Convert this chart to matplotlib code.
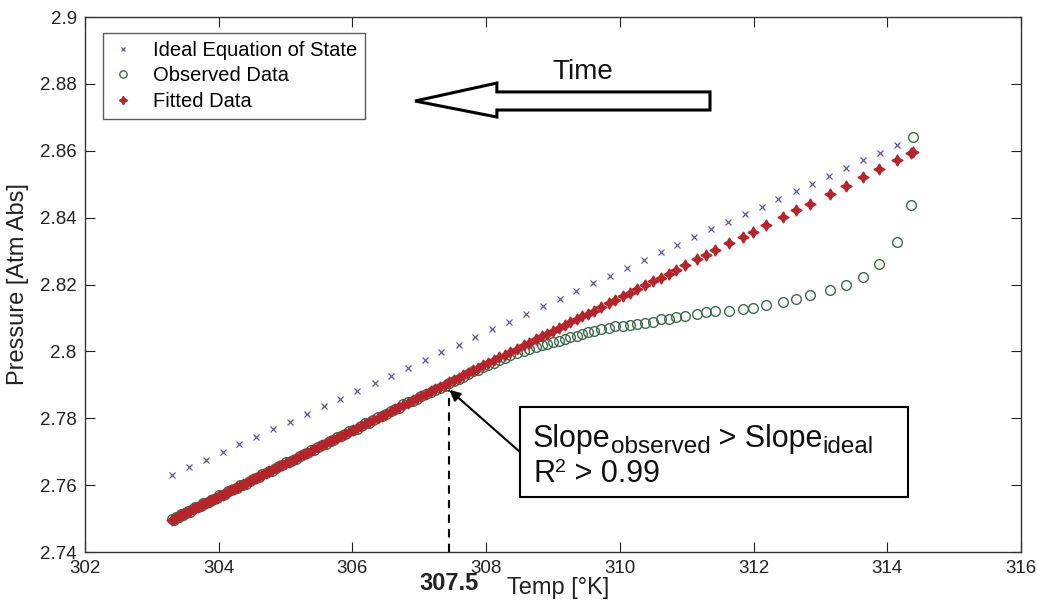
import matplotlib
matplotlib.use('Agg')
import matplotlib.pyplot as plt
from matplotlib.patches import Polygon, Rectangle
from matplotlib.ticker import FormatStrFormatter
import matplotlib.transforms as mtransforms

plt.rcParams['font.family'] = ['Liberation Sans', 'DejaVu Sans']

# ---------------- data ----------------
ideal_temp = [
    314.14, 313.89, 313.63, 313.38, 313.13, 312.88, 312.63, 312.37, 312.12,
    311.87, 311.62, 311.37, 311.11, 310.86, 310.61, 310.36, 310.11, 309.85, 309.60,
    309.35, 309.10, 308.85, 308.59, 308.34, 308.09, 307.84, 307.59, 307.33, 307.08,
    306.83, 306.58, 306.33, 306.07, 305.82, 305.57, 305.32, 305.07, 304.81, 304.56,
    304.31, 304.06, 303.81, 303.55, 303.30]
ideal_pressure = [
    2.8617, 2.8594, 2.8571, 2.8548, 2.8525, 2.8502, 2.8479, 2.8456, 2.8433,
    2.8410, 2.8387, 2.8365, 2.8342, 2.8319, 2.8296, 2.8273, 2.8250, 2.8227, 2.8204,
    2.8181, 2.8158, 2.8135, 2.8112, 2.8089, 2.8066, 2.8043, 2.8020, 2.7997, 2.7974,
    2.7951, 2.7928, 2.7905, 2.7882, 2.7859, 2.7836, 2.7813, 2.7790, 2.7767, 2.7745,
    2.7722, 2.7699, 2.7676, 2.7653, 2.7630]

temperature = [
    303.30, 303.33, 303.36, 303.40, 303.43, 303.47, 303.50, 303.54, 303.57, 303.61,
    303.65, 303.69, 303.73, 303.77, 303.81, 303.85, 303.89, 303.93, 303.97, 304.01,
    304.06, 304.10, 304.14, 304.19, 304.23, 304.28, 304.32, 304.37, 304.41, 304.46,
    304.51, 304.55, 304.60, 304.65, 304.70, 304.75, 304.80, 304.85, 304.90, 304.95,
    305.00, 305.05, 305.11, 305.16, 305.21, 305.27, 305.32, 305.38, 305.43, 305.49,
    305.54, 305.60, 305.66, 305.71, 305.77, 305.83, 305.89, 305.95, 306.01, 306.07,
    306.13, 306.19, 306.25, 306.31, 306.38, 306.44, 306.50, 306.57, 306.63, 306.70,
    306.76, 306.83, 306.90, 306.96, 307.03, 307.10, 307.17, 307.24, 307.31, 307.38,
    307.45, 307.52, 307.59, 307.66, 307.73, 307.81, 307.88, 307.95, 308.03, 308.11,
    308.19, 308.28, 308.36,
    308.46, 308.56, 308.64, 308.74, 308.83, 308.91, 309.00, 309.09, 309.18, 309.26,
    309.36, 309.44, 309.52, 309.61, 309.72, 309.83, 309.93, 310.04, 310.15, 310.26,
    310.37, 310.49, 310.61, 310.73, 310.84, 310.98, 311.15, 311.29, 311.43, 311.63,
    311.84, 311.99, 312.19, 312.44, 312.64, 312.84, 313.14, 313.38, 313.64, 313.88,
    314.14, 314.36, 314.39]

observed_pressure = [
    2.7499, 2.7497, 2.7504, 2.7506, 2.7514, 2.7512, 2.7517, 2.7524, 2.7520, 2.7529,
    2.7534, 2.7534, 2.7539, 2.7547, 2.7548, 2.7549, 2.7557, 2.7560, 2.7561, 2.7571,
    2.7571, 2.7573, 2.7582, 2.7585, 2.7590, 2.7592, 2.7601, 2.7602, 2.7603, 2.7614,
    2.7618, 2.7621, 2.7624, 2.7634, 2.7635, 2.7643, 2.7643, 2.7651, 2.7657, 2.7659,
    2.7669, 2.7669, 2.7676, 2.7678, 2.7688, 2.7693, 2.7696, 2.7706, 2.7706, 2.7714,
    2.7721, 2.7722, 2.7732, 2.7735, 2.7745, 2.7746, 2.7754, 2.7762, 2.7765, 2.7769,
    2.7778, 2.7785, 2.7787, 2.7795, 2.7805, 2.7807, 2.7812, 2.7822, 2.7827, 2.7831,
    2.7842, 2.7848, 2.7853, 2.7858, 2.7867, 2.7872, 2.7880, 2.7884, 2.7892, 2.7898,
    2.7906, 2.7911, 2.7919, 2.7925, 2.7931, 2.7940, 2.7945, 2.7953, 2.7959, 2.7966,
    2.7974, 2.7981, 2.7988,
    2.7996, 2.8001, 2.8006, 2.8013, 2.8018, 2.8023, 2.8027, 2.8032, 2.8037, 2.8042,
    2.8047, 2.8052, 2.8057, 2.8061, 2.8066, 2.8070, 2.8075, 2.8077, 2.8080, 2.8082,
    2.8086, 2.8088, 2.8096, 2.8098, 2.8103, 2.8106, 2.8113, 2.8117, 2.8120, 2.8122,
    2.8126, 2.8131, 2.8140, 2.8148, 2.8156, 2.8170, 2.8184, 2.8198, 2.8224, 2.8262,
    2.8327, 2.8439, 2.8641]

fitted_pressure = [
    2.7497, 2.7500, 2.7503, 2.7507, 2.7510, 2.7514, 2.7517, 2.7521, 2.7524, 2.7528,
    2.7532, 2.7536, 2.7540, 2.7544, 2.7548, 2.7552, 2.7555, 2.7559, 2.7563, 2.7567,
    2.7572, 2.7576, 2.7580, 2.7585, 2.7589, 2.7594, 2.7598, 2.7603, 2.7607, 2.7612,
    2.7617, 2.7621, 2.7626, 2.7631, 2.7636, 2.7641, 2.7646, 2.7651, 2.7656, 2.7661,
    2.7665, 2.7670, 2.7676, 2.7681, 2.7686, 2.7692, 2.7697, 2.7703, 2.7708, 2.7714,
    2.7719, 2.7725, 2.7731, 2.7736, 2.7742, 2.7748, 2.7754, 2.7760, 2.7766, 2.7772,
    2.7777, 2.7783, 2.7789, 2.7795, 2.7802, 2.7808, 2.7814, 2.7821, 2.7827, 2.7834,
    2.7840, 2.7847, 2.7854, 2.7860, 2.7867, 2.7874, 2.7881, 2.7887, 2.7894, 2.7901,
    2.7908, 2.7915, 2.7922, 2.7929, 2.7936, 2.7944, 2.7951, 2.7958, 2.7966, 2.7974,
    2.7982, 2.7990, 2.7998,
    2.8008, 2.8018, 2.8026, 2.8036, 2.8045, 2.8053, 2.8062, 2.8071, 2.8080, 2.8088,
    2.8098, 2.8105, 2.8113, 2.8122, 2.8133, 2.8144, 2.8154, 2.8165, 2.8176, 2.8187,
    2.8198, 2.8210, 2.8221, 2.8233, 2.8244, 2.8258, 2.8275, 2.8289, 2.8303, 2.8323,
    2.8343, 2.8358, 2.8378, 2.8403, 2.8423, 2.8442, 2.8472, 2.8496, 2.8522, 2.8545,
    2.8571, 2.8593, 2.8596]

x_ticks = [302, 304, 306, 308, 310, 312, 314, 316]
y_ticks = [2.74, 2.76, 2.78, 2.80, 2.82, 2.84, 2.86, 2.88, 2.90]
threshold_temp = 307.45
threshold_pressure = 2.7885
threshold_label = '307.5'

# ---------------- figure ----------------
fig = plt.figure(figsize=(10.37, 6.08), dpi=100)
ax = fig.add_axes([0.082, 0.092, 0.9026, 0.88])

ax.plot(ideal_temp, ideal_pressure, linestyle='none', marker='x', ms=4.5,
        mew=0.9, color='#5a5aa0', label='Ideal Equation of State', zorder=3)
ax.plot(temperature, observed_pressure, linestyle='none', marker='o', ms=7,
        mfc='none', mec='#3d6b4c', mew=1.0, label='Observed Data', zorder=4)
ax.plot(temperature, fitted_pressure, linestyle='none', marker=(4, 1, 0), ms=8,
        color='#b5242b', mec='#b5242b', label='Fitted Data', zorder=5)

ax.set_xlim(302, 316)
ax.set_ylim(2.74, 2.9)
ax.set_xticks(x_ticks)
ax.set_yticks(y_ticks)
ax.yaxis.set_major_formatter(FormatStrFormatter('%g'))
ax.tick_params(direction='in', top=True, right=True, length=7, width=0.8,
               labelsize=13.5, pad=6, colors='#222222')
for s in ax.spines.values():
    s.set_linewidth(1.0)
    s.set_color('#333333')

ax.set_xlabel('Temp [°K]', fontsize=17, color='#222222')
ax.xaxis.set_label_coords(0.505, -0.046)
ax.set_ylabel('Pressure [Atm Abs]', fontsize=17, labelpad=8, color='#222222')

# threshold dashed line and bold label
ax.vlines(threshold_temp, 2.74, threshold_pressure, colors='black',
          linestyles=(0, (4, 3)), linewidth=1.5, zorder=6)
trans = mtransforms.blended_transform_factory(ax.transData, ax.transAxes)
ax.text(threshold_temp, -0.058, threshold_label, transform=trans, ha='center',
        va='center', fontsize=17, fontweight='bold', color='#222222')

# legend
leg = ax.legend(loc='upper left', bbox_to_anchor=(0.0192, 0.970), borderaxespad=0,
                fontsize=14.5, frameon=True, fancybox=False, edgecolor='#333333',
                handlelength=1.2, handletextpad=0.9, labelspacing=0.33,
                borderpad=0.38, markerscale=0.75)
leg.get_frame().set_linewidth(1.0)

# Time arrow (hollow, pointing left)
arrow_pts = [(0.3526, 0.843), (0.440, 0.8766), (0.440, 0.860), (0.6677, 0.860),
             (0.6677, 0.8262), (0.440, 0.8262), (0.440, 0.8131)]
ax.add_patch(Polygon(arrow_pts, closed=True, facecolor='white', edgecolor='black',
                     linewidth=2.2, transform=ax.transAxes, zorder=7))
ax.text(0.532, 0.897, 'Time', transform=ax.transAxes, ha='center', va='center',
        fontsize=20, color='#111111')

# annotation box
ax.add_patch(Rectangle((0.4647, 0.1028), 0.8793 - 0.4647, 0.271 - 0.1028,
                       transform=ax.transAxes, facecolor='white', edgecolor='black',
                       linewidth=1.5, zorder=7))

renderer = fig.canvas.get_renderer()


def run_text(x0, y0, pieces):
    """Place consecutive text pieces (text, size, baseline shift in pt)."""
    x = x0
    for txt, size, dy in pieces:
        tr = ax.transAxes + mtransforms.ScaledTranslation(0, dy / 72, fig.dpi_scale_trans)
        t = ax.text(x, y0, txt, transform=tr, ha='left', va='baseline',
                    fontsize=size, zorder=8, color='#111111')
        bb = t.get_window_extent(renderer=renderer)
        x = ax.transAxes.inverted().transform((bb.x1, bb.y0))[0]


run_text(0.4786, 0.196, [('Slope', 22, 0), ('observed', 17.5, -4.5), (' > Slope', 22, 0),
                         ('ideal', 17.5, -4.5)])
run_text(0.4786, 0.131, [('R', 22, 0), ('2', 14, 7), (' > 0.99', 22, 0)])

ax.annotate('', xy=(threshold_temp, threshold_pressure), xycoords='data',
            xytext=(0.4647, 0.187), textcoords='axes fraction',
            arrowprops=dict(arrowstyle='-|>', color='black', lw=1.5,
                            mutation_scale=16, shrinkA=0, shrinkB=0), zorder=9)

fig.savefig('out.png', dpi=100)
